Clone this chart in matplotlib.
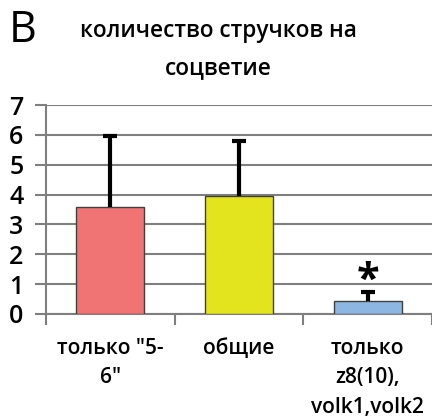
import matplotlib.pyplot as plt
import numpy as np

plt.rcParams['font.family'] = ['Open Sans', 'DejaVu Sans']

categories = ['только "5-\n6"', 'общие', 'только\nz8(10),\nvolk1,volk2']
means = [3.6, 3.95, 0.43]
err_up = [2.35, 1.85, 0.3]
colors = ['#F07474', '#E4E41E', '#8DB6E2']
title = 'количество стручков на\nсоцветие'

fig = plt.figure(figsize=(4.32, 4.19), dpi=100)
ax = fig.add_axes([0.106, 0.2506, 0.894, 0.4985])

x = np.arange(len(categories)) + 0.5
ax.bar(x, means, width=0.53, color=colors, edgecolor='#404040', linewidth=1.0, zorder=3)
eb = ax.errorbar(x, means, yerr=[np.zeros(len(means)), err_up], fmt='none',
                 ecolor='black', elinewidth=3, capsize=5, capthick=3, zorder=4)
eb[1][0].set_visible(False)  # only upper caps

# significance mark over the last group
ax.text(x[2], means[2] + err_up[2] + 0.35, '*', ha='center', va='center',
        fontsize=30, fontweight='bold', zorder=5)

ax.set_xlim(0, 3)
ax.set_ylim(0, 7)
ax.set_yticks(range(8))
ax.yaxis.grid(True, color='#7f7f7f', linewidth=1.5, zorder=0)
ax.set_axisbelow(True)

ax.set_xticks([0, 1, 2, 3])
ax.set_xticklabels([])
ax.set_xticks(x, minor=True)
ax.set_xticklabels(categories, minor=True, fontsize=15, fontweight='semibold',
                   linespacing=1.55, va='top')
ax.tick_params(axis='x', which='minor', length=0, pad=17)
ax.tick_params(axis='x', which='major', length=8, width=1.5, color='#7f7f7f', direction='out')
ax.tick_params(axis='y', length=8, width=1.5, color='#7f7f7f', labelsize=18, pad=8)
for lab in ax.get_yticklabels():
    lab.set_fontweight('semibold')

for s in ['top', 'right']:
    ax.spines[s].set_visible(False)
for s in ['left', 'bottom']:
    ax.spines[s].set_color('#7f7f7f')
    ax.spines[s].set_linewidth(1.5)

fig.text(0.505, 0.955, title, ha='center', va='top', fontsize=16.3,
         fontweight='semibold', linespacing=1.75)
fig.text(0.02, 0.98, 'B', ha='left', va='top', fontsize=31)

fig.savefig('out.png', dpi=100)
